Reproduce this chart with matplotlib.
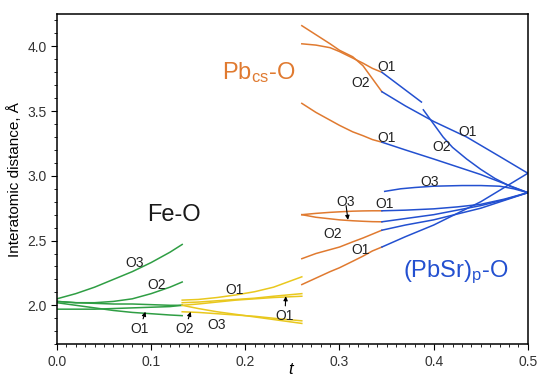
import matplotlib
matplotlib.use("Agg")
import matplotlib.pyplot as plt
from matplotlib.ticker import MultipleLocator

plt.rcParams['font.family'] = ['Liberation Sans', 'DejaVu Sans']
plt.rcParams['mathtext.fontset'] = 'custom'
plt.rcParams['mathtext.rm'] = 'Liberation Sans'
plt.rcParams['mathtext.it'] = 'Liberation Sans:italic'

# Fe-O (green)
t_fe = [0.0, 0.02, 0.04, 0.06, 0.08, 0.10, 0.12, 0.133]
fe_o3 = [2.05, 2.09, 2.14, 2.20, 2.26, 2.33, 2.41, 2.47]
fe_o2 = [2.03, 2.02, 2.02, 2.03, 2.05, 2.09, 2.14, 2.18]
fe_a = [2.03, 2.02, 2.015, 2.01, 2.01, 2.005, 2.0, 2.0]
fe_b = [1.97, 1.97, 1.97, 1.975, 1.98, 1.985, 1.99, 2.0]
fe_o1 = [2.02, 2.0, 1.98, 1.96, 1.945, 1.935, 1.925, 1.92]

# second Fe-O segment (yellow)
t_y = [0.133, 0.15, 0.17, 0.19, 0.21, 0.23, 0.26]
y_o1 = [2.04, 2.045, 2.06, 2.08, 2.105, 2.14, 2.22]
y_a = [2.02, 2.025, 2.035, 2.045, 2.055, 2.07, 2.09]
y_b = [2.0, 2.01, 2.025, 2.04, 2.05, 2.06, 2.07]
y_o3 = [2.0, 1.975, 1.95, 1.93, 1.91, 1.89, 1.86]
y_c = [1.95, 1.945, 1.935, 1.925, 1.915, 1.90, 1.88]

# Pb_cs-O (orange)
t_pb = [0.26, 0.275, 0.29, 0.30, 0.314, 0.325, 0.335, 0.345]
pb_o2 = [4.16, 4.09, 4.02, 3.97, 3.92, 3.85, 3.75, 3.65]
pb_o1 = [4.02, 4.01, 3.99, 3.96, 3.91, 3.87, 3.83, 3.80]
pb_o1b = [3.56, 3.49, 3.43, 3.39, 3.34, 3.31, 3.28, 3.26]
pb_o3u = [2.70, 2.71, 2.718, 2.722, 2.727, 2.729, 2.73, 2.73]
pb_o3l = [2.70, 2.68, 2.668, 2.66, 2.653, 2.649, 2.646, 2.645]
pb_o2b = [2.36, 2.40, 2.43, 2.45, 2.49, 2.52, 2.55, 2.58]
pb_o1c = [2.16, 2.21, 2.26, 2.29, 2.34, 2.38, 2.42, 2.45]

# (PbSr)p-O (blue)
t_b1 = [0.345, 0.366, 0.387]
b1 = [3.80, 3.685, 3.57]
t_b2 = [0.345, 0.37, 0.40, 0.435, 0.47, 0.5]
b2 = [3.65, 3.54, 3.42, 3.30, 3.15, 3.02]
t_b3 = [0.389, 0.40, 0.41, 0.42, 0.435, 0.45, 0.465, 0.481, 0.5]
b3 = [3.51, 3.40, 3.30, 3.22, 3.13, 3.05, 2.98, 2.92, 2.87]
t_b = [0.345, 0.37, 0.40, 0.425, 0.45, 0.475, 0.5]
b4 = [3.26, 3.20, 3.13, 3.07, 3.01, 2.94, 2.87]
b6 = [2.73, 2.735, 2.745, 2.76, 2.78, 2.82, 2.87]
b7 = [2.645, 2.67, 2.70, 2.735, 2.77, 2.815, 2.87]
b8 = [2.58, 2.62, 2.66, 2.705, 2.75, 2.81, 2.87]
b9 = [2.45, 2.53, 2.62, 2.71, 2.80, 2.91, 3.02]
t_b5 = [0.348, 0.365, 0.38, 0.40, 0.43, 0.45, 0.47, 0.485, 0.5]
b5 = [2.88, 2.90, 2.91, 2.92, 2.925, 2.925, 2.92, 2.90, 2.87]

green = '#2f9e44'
yellow = '#e9c81e'
orange = '#e07a30'
blue = '#2350d0'

fig = plt.figure(figsize=(5.37, 3.79), dpi=100)
ax = fig.add_axes([0.106, 0.092, 0.877, 0.871])
lw = 1.1

for ys in [fe_o3, fe_o2, fe_a, fe_b, fe_o1]:
    ax.plot(t_fe, ys, color=green, lw=lw)
for ys in [y_o1, y_a, y_b, y_o3, y_c]:
    ax.plot(t_y, ys, color=yellow, lw=lw)
for ys in [pb_o2, pb_o1, pb_o1b, pb_o3u, pb_o3l, pb_o2b, pb_o1c]:
    ax.plot(t_pb, ys, color=orange, lw=lw)
ax.plot(t_b1, b1, color=blue, lw=lw)
ax.plot(t_b2, b2, color=blue, lw=lw)
ax.plot(t_b3, b3, color=blue, lw=lw)
ax.plot(t_b5, b5, color=blue, lw=lw)
for ys in [b4, b6, b7, b8, b9]:
    ax.plot(t_b, ys, color=blue, lw=lw)

# small labels
fs = 10
lab = dict(fontsize=fs, color='#222222', ha='center', va='center')
ax.text(0.083, 2.33, 'O3', **lab)
ax.text(0.106, 2.16, 'O2', **lab)
ax.text(0.189, 2.12, 'O1', **lab)
ax.text(0.170, 1.85, 'O3', **lab)
ax.text(0.350, 3.84, 'O1', **lab)
ax.text(0.322, 3.72, 'O2', **lab)
ax.text(0.350, 3.29, 'O1', **lab)
ax.text(0.306, 2.80, 'O3', **lab)
ax.text(0.348, 2.78, 'O1', **lab)
ax.text(0.293, 2.55, 'O2', **lab)
ax.text(0.322, 2.43, 'O1', **lab)
ax.text(0.436, 3.34, 'O1', **lab)
ax.text(0.409, 3.22, 'O2', **lab)
ax.text(0.396, 2.95, 'O3', **lab)

arr = dict(arrowstyle='-|>', color='black', lw=0.8, mutation_scale=6,
           shrinkA=0, shrinkB=0)
ax.annotate('O1', xy=(0.094, 1.95), xytext=(0.088, 1.82), arrowprops=arr, **lab)
ax.annotate('O2', xy=(0.142, 1.95), xytext=(0.136, 1.82), arrowprops=arr, **lab)
ax.annotate('O1', xy=(0.243, 2.07), xytext=(0.242, 1.92), arrowprops=arr, **lab)
ax.annotate('', xy=(0.309, 2.66), xytext=(0.307, 2.77), arrowprops=arr)

# group labels
ax.text(0.0955, 2.65, 'Fe-O', fontsize=17, color='#1a1a1a', ha='left', va='baseline')
ax.text(0.175, 3.75, r'Pb$_{\mathrm{cs}}$-O', fontsize=17, color=orange, ha='left', va='baseline')
ax.text(0.367, 2.22, r'(PbSr)$_{\mathrm{p}}$-O', fontsize=17, color=blue, ha='left', va='baseline')

ax.set_xlim(0.0, 0.5)
ax.set_ylim(1.7, 4.25)
ax.xaxis.set_major_locator(MultipleLocator(0.1))
ax.xaxis.set_minor_locator(MultipleLocator(0.01))
ax.yaxis.set_major_locator(MultipleLocator(0.5))
ax.yaxis.set_minor_locator(MultipleLocator(0.1))
ax.tick_params(which='both', direction='out', top=False, right=False,
               labelsize=10, labelcolor='#333333')
ax.tick_params(which='major', length=4)
ax.tick_params(which='minor', length=2)
ax.set_xticks([0.0, 0.1, 0.2, 0.3, 0.4, 0.5])
ax.set_xticklabels(['0.0', '0.1', '0.2', '0.3', '0.4', '0.5'])
for s in ax.spines.values():
    s.set_linewidth(1.1)

ax.set_xlabel('t', fontsize=12, style='italic')
ax.xaxis.set_label_coords(0.497, -0.055)
ax.set_ylabel('Interatomic distance, Å', fontsize=11, labelpad=4)

fig.savefig('out.png', dpi=100)
